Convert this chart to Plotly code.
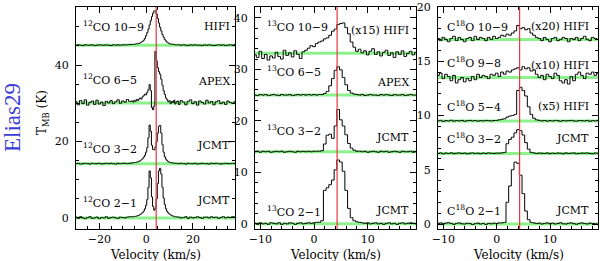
import numpy as np
import plotly.graph_objects as go

V_LSR = 4.3

# ---------------- velocity grids (km/s) ----------------
v12 = np.concatenate([np.arange(-30, -6, 1.0), np.arange(-6, 14, 0.5), np.arange(14, 38.5, 1.0)])
v13 = np.arange(-11, 19.25, 0.5)
v18 = np.arange(-11, 19.25, 0.5)

# ---------------- 12CO spectra (K) ----------------
co12_21 = ([0.2,-0.1,0.3,0.0,-0.2,0.1,0.3,-0.1,0.0,0.2,-0.2,0.1,0.0,0.3,-0.1,0.1,0.2,0.0,-0.1,0.2,0.1,0.0,0.2,0.3]
           + [0.3,0.3,0.4,0.4,0.5,0.6,0.7,0.9,1.1,1.4, 1.8,2.4,3.3,4.8,8.0,12.3,10.5,5.5,3.0,2.0,
              2.5,5.0,9.0,12.3,13.0,11.5,8.0,5.2,3.5,2.4, 1.7,1.3,1.0,0.8,0.6,0.5,0.4,0.3,0.3,0.2]
           + [0.2,0.0,0.1,0.3,-0.1,0.2,0.0,0.1,0.3,0.1,-0.1,0.2,0.2,0.0,0.3,0.1,0.2,-0.1,0.1,0.3,0.0,0.2,0.1,0.3,0.2])
co12_32 = ([0.0,0.1,-0.1,0.0,0.1,0.0,-0.1,0.1,0.0,0.0,0.1,-0.1,0.0,0.1,0.0,0.1,0.0,-0.1,0.1,0.0,0.1,0.1,0.0,0.1]
           + [0.2,0.2,0.3,0.3,0.4,0.5,0.6,0.8,1.0,1.3, 1.7,2.2,3.0,4.2,6.8,10.1,8.5,4.8,3.7,3.6,
              4.3,5.8,8.0,9.8,10.0,8.0,5.0,3.0,1.8,1.2, 0.8,0.5,0.4,0.3,0.2,0.2,0.1,0.1,0.1,0.0]
           + [0.0,0.1,0.0,-0.1,0.1,0.0,0.0,0.1,-0.1,0.0,0.1,0.0,0.0,-0.1,0.1,0.0,0.1,0.0,-0.1,0.0,0.1,0.0,0.0,0.1,0.0])
co12_65 = ([0.3,-0.5,0.6,-0.2,0.8,-0.6,0.1,0.5,-0.4,0.7,-0.3,0.2,-0.7,0.4,0.0,0.6,-0.2,0.3,0.8,-0.1,0.5,0.2,0.9,0.4]
           + [0.5,0.2,0.7,0.4,0.9,0.6,1.0,1.3,1.0,1.6, 1.9,2.3,2.1,2.8,3.5,4.8,3.2,-1.2,-1.8,-0.8,
              13.5,11.0,9.2,8.2,7.5,6.2,4.6,3.2,2.2,1.3, 0.9,0.3,0.6,-0.2,0.4,0.1,0.7,-0.3,0.3,0.5]
           + [-0.4,0.6,0.2,-0.5,0.4,0.8,-0.2,0.3,-0.6,0.5,0.1,-0.3,0.7,0.0,0.4,-0.5,0.3,0.6,-0.2,0.2,-0.4,0.5,0.1,-0.1,0.3])
co12_109 = ([0.0,0.1,0.0,-0.1,0.1,0.0,0.0,0.1,-0.1,0.0,0.1,0.0,0.0,0.1,0.0,-0.1,0.1,0.0,0.1,0.0,0.1,0.1,0.1,0.2]
            + [0.2,0.2,0.25,0.3,0.35,0.4,0.5,0.6,0.8,1.0, 1.3,1.8,2.5,3.3,4.2,5.3,6.4,7.5,8.4,9.0,
               9.0,8.2,7.0,5.8,4.7,3.7,2.8,2.1,1.5,1.1, 0.8,0.6,0.4,0.3,0.3,0.2,0.2,0.1,0.1,0.1]
            + [0.1,0.0,0.1,0.0,-0.1,0.1,0.0,0.1,0.0,0.0,-0.1,0.1,0.0,0.1,0.0,-0.1,0.0,0.1,0.0,0.1,-0.1,0.0,0.1,0.0,0.1])
co12_offsets = [0, 14.2, 30.1, 45.2]

# ---------------- 13CO spectra (K) ----------------
co13_21 = [0.1,-0.1,0.2,0.0,0.1,-0.1,0.2,0.1,0.0,0.2,
           -0.1,0.1,0.0,0.2,0.1,-0.1,0.1,0.2,0.0,0.1,
           0.2,0.1,0.2,0.3,0.3,0.6,6.5,7.0,7.6,8.5,
           10.5,12.4,12.0,10.2,6.5,3.0,1.2,0.6,0.4,0.3,
           0.2,0.1,0.2,0.0,0.1,0.2,0.0,0.1,-0.1,0.1,
           0.2,0.0,0.1,-0.1,0.1,0.2,0.0,0.1,0.2,0.1,
           0.0]
co13_32 = [0.0,0.1,-0.1,0.1,0.0,0.1,-0.1,0.0,0.1,0.0,
           0.1,-0.1,0.0,0.1,0.0,-0.1,0.1,0.0,0.1,0.0,
           0.1,0.0,0.1,0.1,0.1,0.2,1.5,3.2,3.4,2.6,
           5.0,8.2,6.2,5.0,3.3,1.6,0.7,0.3,0.1,0.1,
           0.0,0.1,-0.1,0.0,0.1,0.0,-0.1,0.1,0.0,0.1,
           -0.1,0.0,0.1,0.0,-0.1,0.1,0.0,0.0,0.1,-0.1,
           0.0]
co13_65 = [0.0,-0.1,0.1,0.0,0.1,-0.1,0.0,0.1,0.0,-0.1,
           0.1,0.0,0.0,0.1,-0.1,0.0,0.1,0.0,0.1,0.0,
           0.1,0.0,0.1,0.0,0.1,0.1,0.3,0.7,1.8,3.2,
           4.8,5.5,4.9,3.4,2.0,0.9,0.4,0.2,0.1,0.0,
           0.1,-0.1,0.0,0.1,0.0,0.0,-0.1,0.1,0.0,0.1,
           0.0,-0.1,0.1,0.0,0.0,0.1,-0.1,0.0,0.1,0.0,
           0.0]
co13_109_x15 = [-0.3,-0.8,0.4,-1.0,-0.2,-1.3,-0.5,-0.9,0.2,-0.6,
                -1.1,0.6,-0.4,0.1,-0.7,0.5,-0.2,-1.0,0.3,0.6,
                1.0,1.5,1.3,1.9,2.2,2.4,2.8,3.0,3.5,4.3,
                4.7,5.6,5.8,5.9,5.0,3.8,2.2,1.2,0.4,0.8,
                0.1,0.5,-0.3,0.4,0.9,-0.2,0.3,-0.5,0.2,0.6,
                -0.4,0.1,-0.8,0.3,-0.2,0.5,-0.6,0.0,0.4,-0.3,
                0.2]
co13_offsets = [0, 14.0, 25.0, 33.1]

# ---------------- C18O spectra (K) ----------------
c18o_21 = [0.05,0.1,0.0,0.08,0.12,0.05,-0.03,0.06,0.1,0.02,
           0.0,0.07,0.04,-0.05,0.03,0.08,0.0,0.05,-0.04,0.06,
           0.02,0.08,0.05,0.1,0.1,0.15,2.0,3.5,5.0,5.7,
           5.6,4.5,2.8,1.2,0.4,0.15,0.1,0.05,0.08,0.0,
           0.06,0.1,0.03,0.08,0.0,0.05,0.12,0.02,0.0,0.07,
           0.1,0.03,-0.02,0.06,0.1,0.04,0.0,0.08,0.05,0.02,
           0.0]
c18o_32 = [0.0,0.05,-0.03,0.04,0.0,0.06,-0.02,0.03,0.05,0.0,
           0.04,-0.03,0.02,0.05,0.0,0.03,-0.02,0.04,0.0,0.05,
           0.02,0.0,0.04,0.03,0.05,0.1,0.9,1.3,1.5,1.9,
           2.2,2.1,1.7,1.0,0.4,0.1,0.05,0.0,0.04,0.02,
           0.0,0.05,-0.02,0.03,0.0,0.04,0.02,-0.03,0.05,0.0,
           0.03,0.05,-0.02,0.0,0.04,0.02,0.05,0.0,-0.03,0.04,
           0.02]
c18o_54_x5 = [0.0,0.05,-0.05,0.03,0.0,0.06,-0.02,0.04,0.0,0.05,
              -0.03,0.02,0.05,0.0,0.04,-0.02,0.03,0.0,0.05,0.02,
              0.0,0.04,0.05,0.1,0.15,0.2,0.35,0.45,0.5,0.6,
              2.8,3.1,2.8,2.3,1.3,0.6,0.25,0.1,0.05,0.0,
              0.04,-0.02,0.03,0.0,0.05,0.02,-0.03,0.04,0.0,0.03,
              0.05,0.0,-0.02,0.04,0.02,0.0,0.05,-0.03,0.03,0.0,
              0.04]
c18o_98_x10 = [0.2,0.4,-0.1,0.3,0.1,-0.3,0.2,-0.5,-0.2,0.0,
               -0.4,-0.1,-0.3,0.1,-0.2,0.3,0.0,0.2,0.1,-0.1,
               0.3,0.2,0.4,0.1,0.5,0.3,0.6,0.5,0.7,0.8,
               0.9,0.7,1.0,0.8,0.9,0.6,0.7,0.3,0.0,0.2,
               -0.2,0.3,0.1,-0.1,0.4,0.2,-0.3,-0.5,-0.2,-0.6,
               0.1,-0.3,0.3,0.5,0.2,-0.1,0.4,0.3,0.5,0.2,
               0.4]
c18o_109_x20 = [0.1,-0.1,0.2,0.0,-0.2,0.1,0.3,-0.1,0.2,0.0,
                -0.2,0.1,0.2,-0.1,0.3,0.0,0.2,0.1,-0.1,0.2,
                0.0,0.3,0.1,0.2,0.4,0.3,0.5,0.4,0.6,0.8,
                1.3,1.0,1.1,0.9,1.0,0.6,0.4,0.2,0.1,-0.1,
                0.2,0.0,-0.2,0.1,0.2,-0.1,0.0,0.2,0.1,-0.2,
                0.1,0.0,0.2,-0.1,0.1,0.3,0.0,-0.1,0.2,0.1,
                0.0]
c18o_offsets = [0, 6.5, 9.5, 13.5, 17.0]

# ---------------- labels ----------------
co12_labels = ["<sup>12</sup>CO 2−1", "<sup>12</sup>CO 3−2", "<sup>12</sup>CO 6−5", "<sup>12</sup>CO 10−9"]
co12_tags = ["JCMT", "JCMT", "APEX", "HIFI"]
co13_labels = ["<sup>13</sup>CO 2−1", "<sup>13</sup>CO 3−2", "<sup>13</sup>CO 6−5", "<sup>13</sup>CO 10−9"]
co13_tags = ["JCMT", "JCMT", "APEX", "(x15) HIFI"]
c18o_labels = ["C<sup>18</sup>O 2−1", "C<sup>18</sup>O 3−2", "C<sup>18</sup>O 5−4", "C<sup>18</sup>O 9−8", "C<sup>18</sup>O 10−9"]
c18o_tags = ["JCMT", "JCMT", "(x5) HIFI", "(x10) HIFI", "(x20) HIFI"]

# pixel rows (from top of 261 px image) for text placement
co12_lab_py = [202, 148, 79, 27]
co12_tag_py = [200, 145, 81, 27]
co13_lab_py = [211, 130, 71, 27]
co13_tag_py = [210, 137, 82, 30]
c18o_lab_py = [210, 139, 107, 63, 27]
c18o_tag_py = [210, 139, 107, 65, 27]

FONT = "DejaVu Serif"
FS = 11
fig = go.Figure()

panels = [
    dict(ax="x", ay="y", v=v12, specs=[co12_21, co12_32, co12_65, co12_109], offs=co12_offsets,
         labels=co12_labels, tags=co12_tags, lpy=co12_lab_py, tpy=co12_tag_py, lx=0.035, tx=0.975,
         xr=[-30, 38], yr=[-2.9, 55.2], xd=20, xm=5, yd=20, ym=5, dom=[0.0, 0.3046]),
    dict(ax="x2", ay="y2", v=v13, specs=[co13_21, co13_32, co13_65, co13_109_x15], offs=co13_offsets,
         labels=co13_labels, tags=co13_tags, lpy=co13_lab_py, tpy=co13_tag_py, lx=0.07, tx=0.96,
         xr=[-11, 19], yr=[-1.0, 42.1], xd=10, xm=2, yd=10, ym=2, dom=[0.3429, 0.6513]),
    dict(ax="x3", ay="y3", v=v18, specs=[c18o_21, c18o_32, c18o_54_x5, c18o_98_x10, c18o_109_x20], offs=c18o_offsets,
         labels=c18o_labels, tags=c18o_tags, lpy=c18o_lab_py, tpy=c18o_tag_py, lx=0.05, tx=0.95,
         xr=[-11, 19], yr=[-0.46, 20.0], xd=10, xm=2, yd=5, ym=1, dom=[0.6935, 1.0]),
]

shapes = []
annotations = []
TOP, BOT = 7, 229
H = BOT - TOP

for i, p in enumerate(panels):
    for spec, off in zip(p["specs"], p["offs"]):
        fig.add_trace(go.Scatter(x=p["v"], y=np.array(spec) + off, mode="lines",
                                 line=dict(color="black", width=1, shape="hvh"),
                                 xaxis=p["ax"], yaxis=p["ay"], showlegend=False, hoverinfo="skip"))
        shapes.append(dict(type="line", xref=f"{p['ax']} domain", x0=0, x1=1, yref=p["ay"], y0=off, y1=off,
                           line=dict(color="rgba(120,240,120,0.85)", width=3), layer="below"))
    shapes.append(dict(type="line", xref=p["ax"], x0=V_LSR, x1=V_LSR, yref=f"{p['ay']} domain", y0=0, y1=1,
                       line=dict(color="#e8383c", width=1.2), layer="above"))
    for lab, py in zip(p["labels"], p["lpy"]):
        annotations.append(dict(text=lab, xref=f"{p['ax']} domain", x=p["lx"], xanchor="left",
                                yref="paper", y=(BOT - py) / H, yanchor="middle", showarrow=False,
                                borderpad=0, font=dict(family=FONT, size=FS, color="black")))
    for tag, py in zip(p["tags"], p["tpy"]):
        annotations.append(dict(text=tag, xref=f"{p['ax']} domain", x=p["tx"], xanchor="right",
                                yref="paper", y=(BOT - py) / H, yanchor="middle", showarrow=False,
                                borderpad=0, font=dict(family=FONT, size=FS, color="black")))
    annotations.append(dict(text="Velocity (km/s)", xref=f"{p['ax']} domain", x=0.5, xanchor="center",
                            yref="paper", y=(BOT - 254.5) / H, yanchor="middle", showarrow=False,
                            borderpad=0, font=dict(family=FONT, size=12, color="black")))

    common = dict(showline=True, linecolor="black", linewidth=1, mirror="allticks", ticks="inside",
                  ticklen=6, tickwidth=1, tickcolor="black", showgrid=False, zeroline=False,
                  automargin=False, tickfont=dict(family=FONT, size=FS, color="black"))
    sfx = "" if i == 0 else str(i + 1)
    fig.update_layout(**{
        f"xaxis{sfx}": dict(common, domain=p["dom"], range=p["xr"], tick0=0, dtick=p["xd"],
                            anchor=p["ay"], ticklabelstandoff=0,
                            minor=dict(ticks="inside", ticklen=3, tickcolor="black", dtick=p["xm"], tick0=0, showgrid=False)),
        f"yaxis{sfx}": dict(common, domain=[0, 1], range=p["yr"], tick0=0, dtick=p["yd"],
                            anchor=p["ax"], ticklabelstandoff=4,
                            minor=dict(ticks="inside", ticklen=3, tickcolor="black", dtick=p["ym"], tick0=0, showgrid=False)),
    })

annotations.append(dict(text="T<sub>MB</sub> (K)", xref="paper", x=(43 - 76) / 522, xanchor="center",
                        yref="paper", y=(BOT - 113) / H, yanchor="middle", textangle=-90, showarrow=False,
                        font=dict(family=FONT, size=12, color="black")))
annotations.append(dict(text="Elias29", xref="paper", x=(12 - 76) / 522, xanchor="center",
                        yref="paper", y=(BOT - 118) / H, yanchor="middle", textangle=-90, showarrow=False,
                        borderpad=0, font=dict(family="Liberation Serif", size=23, color="#3c3cd6")))

fig.update_layout(template="none", width=600, height=261, margin=dict(l=76, r=2, t=7, b=32),
                  plot_bgcolor="white", paper_bgcolor="white", shapes=shapes, annotations=annotations,
                  showlegend=False)

fig.write_html("out.html", config={"displayModeBar": False, "staticPlot": True},
               post_script="document.body.style.margin='0';document.body.style.padding='0';document.body.style.overflow='hidden';")
